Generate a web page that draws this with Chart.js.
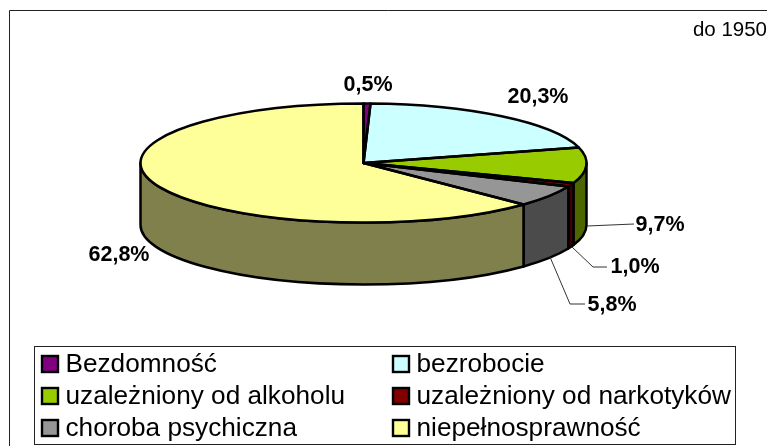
<!DOCTYPE html>
<html><head><meta charset="utf-8">
<style>html,body{margin:0;padding:0;background:#fff;overflow:hidden}canvas{display:block}</style>
<script src="https://cdn.jsdelivr.net/npm/chart.js@4"></script>
</head><body>
<canvas id="c" width="767" height="446"></canvas>
<script>
const categories = ['Bezdomność','bezrobocie','uzależniony od alkoholu','uzależniony od narkotyków','choroba psychiczna','niepełnosprawność'];
const shares = [0.5,20.3,9.7,1.0,5.8,62.8];
const topColors = ['#800080','#CCFFFF','#99CC00','#800000','#969696','#FFFF99'];
const wallColors = ['#400040','#668080','#4D6600','#400000','#4B4B4B','#80804D'];
const seriesTag = 'do 1950';

const FONT = '"Liberation Sans", Arial, sans-serif';
const tilt = {cy:163, ry:59.5, depth:62};
const labelSpots = [[368,85],[538,97],[660,225],[635,267],[612,305],[119,255]];
const leaders = [null,null,[[587,226],[634,224]],[[572,247],[593,267],[607,267]],[[550,257],[570,304],[585,304]],null];

function band(s,e,lo,hi){const a=Math.max(s,lo),b=Math.min(e,hi);return a<b?[a,b]:null;}
const pie3d = {
  id:'pie3d',
  beforeDatasetDraw(chart){
    const ctx=chart.ctx, arcs=chart.getDatasetMeta(0).data;
    const {x:cx,outerRadius:rx}=arcs[0].getProps(['x','outerRadius'],true);
    ctx.save();
    ctx.lineWidth=2.5; ctx.strokeStyle='#000'; ctx.lineJoin='round';
    arcs.forEach((arc,i)=>{
      const p=arc.getProps(['startAngle','endAngle'],true);
      [band(p.startAngle,p.endAngle,0,Math.PI),band(p.startAngle,p.endAngle,2*Math.PI,3*Math.PI)].forEach(r=>{
        if(!r)return;
        ctx.beginPath();
        ctx.ellipse(cx,tilt.cy,rx,tilt.ry,0,r[0],r[1]);
        ctx.ellipse(cx,tilt.cy+tilt.depth,rx,tilt.ry,0,r[1],r[0],true);
        ctx.closePath();
        ctx.fillStyle=wallColors[i]; ctx.fill(); ctx.stroke();
      });
    });
    ctx.restore();
    const yc=arcs[0].getProps(['y'],true).y;
    ctx.save();
    ctx.translate(0,tilt.cy); ctx.scale(1,tilt.ry/rx); ctx.translate(0,-yc);
  },
  afterDatasetDraw(chart){
    const ctx=chart.ctx, arcs=chart.getDatasetMeta(0).data;
    ctx.restore();
    ctx.save();
    ctx.lineWidth=2.5; ctx.strokeStyle='#000'; ctx.lineJoin='round';
    arcs.forEach(arc=>{
      const p=arc.getProps(['x','outerRadius','startAngle','endAngle'],true);
      ctx.beginPath();
      ctx.moveTo(p.x,tilt.cy);
      ctx.ellipse(p.x,tilt.cy,p.outerRadius,tilt.ry,0,p.startAngle,p.endAngle);
      ctx.closePath();
      ctx.stroke();
    });
    ctx.restore();
  },
  afterDraw(chart){
    const ctx=chart.ctx;
    ctx.save();
    // outer frame
    ctx.strokeStyle='#222'; ctx.lineWidth=1;
    ctx.beginPath(); ctx.moveTo(9.5,446); ctx.lineTo(9.5,10.5); ctx.lineTo(767,10.5); ctx.stroke();
    // leaders
    ctx.strokeStyle='#333';
    leaders.forEach(l=>{ if(!l)return; ctx.beginPath(); l.forEach((q,k)=>k?ctx.lineTo(q[0],q[1]):ctx.moveTo(q[0],q[1])); ctx.stroke(); });
    // value labels
    ctx.fillStyle='#000'; ctx.textBaseline='middle'; ctx.textAlign='center';
    ctx.font='bold 21.5px '+FONT;
    shares.forEach((v,i)=>ctx.fillText(v.toFixed(1).replace('.',',')+'%',labelSpots[i][0],labelSpots[i][1]));
    ctx.textAlign='right'; ctx.font='20.5px '+FONT;
    ctx.fillText(seriesTag,767,30);
    // legend
    ctx.strokeStyle='#222'; ctx.lineWidth=1;
    ctx.strokeRect(34.5,346.5,701,98);
    ctx.textAlign='left'; ctx.font='26.2px '+FONT;
    categories.forEach((name,i)=>{
      const col=i%2, row=Math.floor(i/2);
      const sx=col?393:42, y=364.5+row*32;
      ctx.fillStyle=topColors[i]; ctx.fillRect(sx,y-8.5,16,16);
      ctx.strokeStyle='#000'; ctx.lineWidth=2.4; ctx.strokeRect(sx,y-8.5,16,16);
      ctx.fillStyle='#000'; ctx.fillText(name,sx+23.5,y+0.7);
    });
    ctx.restore();
  }
};
new Chart(document.getElementById('c'),{
  type:'pie',
  data:{labels:categories,datasets:[{data:shares,backgroundColor:topColors,borderWidth:0,hoverOffset:0}]},
  options:{
    responsive:false,animation:false,
    layout:{padding:{left:0,right:40,top:0,bottom:0}},
    plugins:{legend:{display:false},tooltip:{enabled:false},title:{display:false}}
  },
  plugins:[pie3d]
});
</script>
</body></html>
